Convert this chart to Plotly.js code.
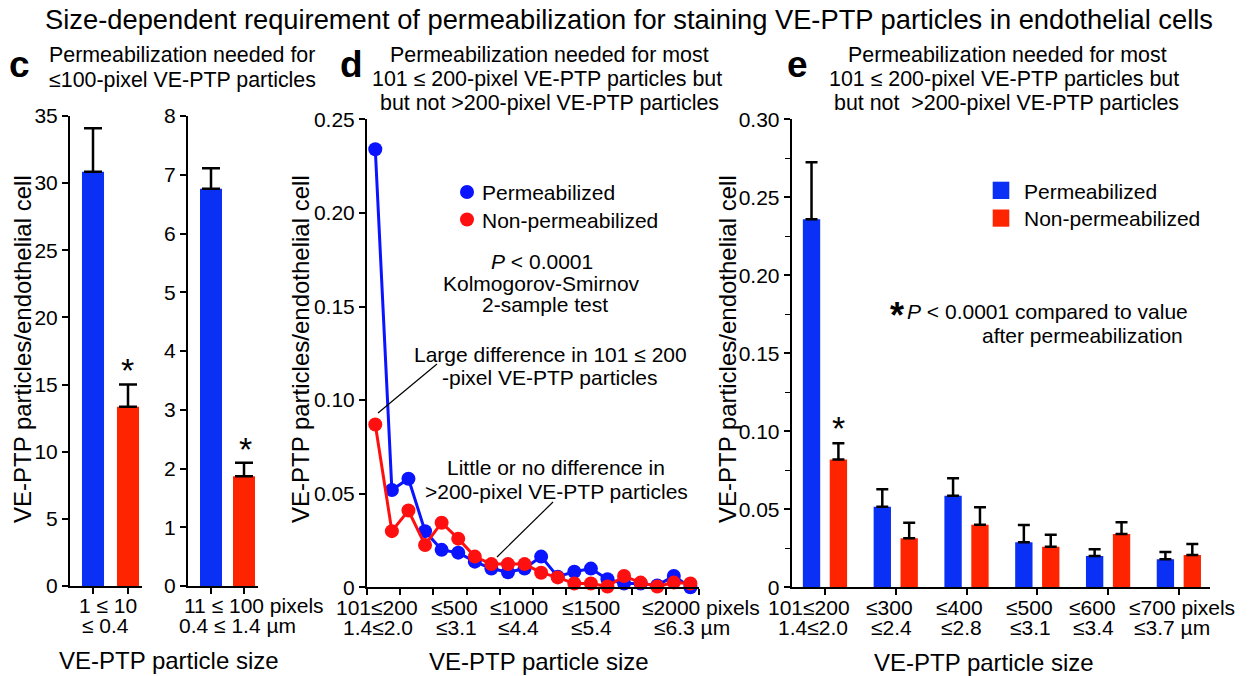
<!DOCTYPE html>
<html>
<head>
<meta charset="utf-8">
<script src="https://cdn.plot.ly/plotly-3.0.1.min.js"></script>
<style>html,body{margin:0;padding:0;background:#fff}#chart{width:1259px;height:676px}</style>
</head>
<body>
<div id="chart"></div>
<script>
// ---------- data ----------
const groupNames = ['Permeabilized', 'Non-permeabilized'];

// panel c (left): 1 ≤ 10 pixels
const c1Values = [30.85, 13.35];
const c1Errors = [3.23, 1.65];
// panel c (right): 11 ≤ 100 pixels
const c2Values = [6.76, 1.87];
const c2Errors = [0.35, 0.23];

// panel d: 20 size bins (101-200 ... 2000 pixels)
const dBins = [0,1,2,3,4,5,6,7,8,9,10,11,12,13,14,15,16,17,18,19];
const dPermeabilized = [0.234,0.052,0.058,0.030,0.020,0.0185,0.0137,0.010,0.008,0.010,0.0164,0.0057,0.0083,0.010,0.0043,0.002,0.002,0.001,0.006,0.0];
const dNonPermeabilized = [0.087,0.030,0.041,0.0226,0.0345,0.026,0.0164,0.0124,0.0124,0.0124,0.0078,0.0053,0.002,0.002,0.0004,0.006,0.0025,0.0004,0.0025,0.002];

// panel e
const eCategories = [0,1,2,3,4,5];
const ePermeabilized = [0.236,0.0517,0.0587,0.0288,0.0201,0.018];
const ePermErrors = [0.0364,0.0111,0.0112,0.0112,0.0043,0.0046];
const eNonPermeabilized = [0.082,0.0314,0.0401,0.026,0.0342,0.0207];
const eNonErrors = [0.0103,0.0100,0.0112,0.0077,0.0075,0.0071];

// tick labels
const c1TickLabels = ['1 ≤ 10', '≤ 0.4'];
const c2TickLabels = ['11 ≤ 100 pixels', '0.4 ≤ 1.4 µm'];
const dTickPixels = ['101≤200', '≤500', '≤1000', '≤1500', '≤2000 pixels'];
const dTickMicrons = ['1.4≤2.0', '≤3.1', '≤4.4', '≤5.4', '≤6.3 µm'];
const eTickPixels = ['101≤200', '≤300', '≤400', '≤500', '≤600', '≤700 pixels'];
const eTickMicrons = ['1.4≤2.0', '≤2.4', '≤2.8', '≤3.1', '≤3.4', '≤3.7 µm'];
const dYTicks = [0, 0.05, 0.10, 0.15, 0.20, 0.25];
const dYTickText = ['0', '0.05', '0.10', '0.15', '0.20', '0.25'];
const eYTicks = [0, 0.05, 0.10, 0.15, 0.20, 0.25, 0.30];
const eYTickText = ['0', '0.05', '0.10', '0.15', '0.20', '0.25', '0.30'];

// ---------- layout helpers ----------
const W = 1259, H = 676;
const F = 'Liberation Sans, Arial, Helvetica, sans-serif';
const BLUE = '#0a30f5', RED = '#ff2400';
const LBLUE = '#0a14ff', LRED = '#ff1010';
const X = p => p / W;
const Y = p => 1 - p / H;

function txt(text, x, y, o) {
  o = o || {};
  return {
    text: text, x: X(x), y: Y(y), xref: 'paper', yref: 'paper', showarrow: false,
    xanchor: o.xa || 'center', yanchor: 'middle', textangle: o.angle || 0,
    font: {family: F, size: o.size || 21, color: '#000', weight: o.weight || 'normal'}
  };
}

const errStyle = {color: '#000', thickness: 2.5};

const traces = [
  {type: 'bar', x: [0, 1], y: c1Values, xaxis: 'x', yaxis: 'y', width: 0.63,
   marker: {color: [BLUE, RED]}, name: 'c1',
   error_y: Object.assign({type: 'data', symmetric: false, array: c1Errors, arrayminus: [0, 0], width: 9}, errStyle)},
  {type: 'bar', x: [0, 1], y: c2Values, xaxis: 'x2', yaxis: 'y2', width: 0.667,
   marker: {color: [BLUE, RED]}, name: 'c2',
   error_y: Object.assign({type: 'data', symmetric: false, array: c2Errors, arrayminus: [0, 0], width: 9}, errStyle)},
  {type: 'scatter', mode: 'lines+markers', x: dBins, y: dPermeabilized, xaxis: 'x3', yaxis: 'y3',
   name: groupNames[0], line: {color: LBLUE, width: 3}, marker: {color: LBLUE, size: 14}, cliponaxis: false},
  {type: 'scatter', mode: 'lines+markers', x: dBins, y: dNonPermeabilized, xaxis: 'x3', yaxis: 'y3',
   name: groupNames[1], line: {color: LRED, width: 3}, marker: {color: LRED, size: 14}, cliponaxis: false},
  {type: 'bar', x: eCategories, y: ePermeabilized, xaxis: 'x4', yaxis: 'y4', width: 0.245, offset: -0.3125,
   name: groupNames[0], marker: {color: BLUE},
   error_y: Object.assign({type: 'data', symmetric: false, array: ePermErrors, arrayminus: ePermErrors.map(() => 0), width: 6}, errStyle)},
  {type: 'bar', x: eCategories, y: eNonPermeabilized, xaxis: 'x4', yaxis: 'y4', width: 0.245, offset: 0.0675,
   name: groupNames[1], marker: {color: RED},
   error_y: Object.assign({type: 'data', symmetric: false, array: eNonErrors, arrayminus: eNonErrors.map(() => 0), width: 6}, errStyle)}
];

const axBase = {
  showline: true, linecolor: '#000', linewidth: 2, ticks: 'outside', ticklen: 6, tickwidth: 2,
  tickcolor: '#000', showgrid: false, zeroline: false, fixedrange: true,
  tickfont: {family: F, size: 21, color: '#000'}
};

const annotations = [
  // panel letters
  txt('c', 19, 64.5, {size: 37, weight: 'bold'}),
  txt('d', 351, 64.5, {size: 37, weight: 'bold'}),
  txt('e', 797, 64.5, {size: 37, weight: 'bold'}),
  // subtitles
  txt('Permeabilization needed for', 182, 55, {size: 21.4}),
  txt('≤100-pixel VE-PTP particles', 182, 80, {size: 21.4}),
  txt('Permeabilization needed for most', 549, 55, {size: 21.4}),
  txt('101 ≤ 200-pixel VE-PTP particles but', 547, 79, {size: 21.4}),
  txt('but not >200-pixel VE-PTP particles', 549, 103, {size: 21.4}),
  txt('Permeabilization needed for most', 1007, 55, {size: 21.4}),
  txt('101 ≤ 200-pixel VE-PTP particles but', 1004, 79, {size: 21.4}),
  txt('but not\u00a0 >200-pixel VE-PTP particles', 1006, 103, {size: 21.4}),
  // y-axis titles
  txt('VE-PTP particles/endothelial cell', 22, 349, {size: 24, angle: -90}),
  txt('VE-PTP particles/endothelial cell', 300, 349, {size: 24, angle: -90}),
  txt('VE-PTP particles/endothelial cell', 727, 349, {size: 24, angle: -90}),
  // x-axis titles
  txt('VE-PTP particle size', 169, 660, {size: 24}),
  txt('VE-PTP particle size', 539, 661, {size: 24}),
  txt('VE-PTP particle size', 984, 662, {size: 24}),
  // c tick labels
  txt(c1TickLabels[0], 108, 605),
  txt(c1TickLabels[1], 105, 625),
  txt(c2TickLabels[0], 181.7, 605, {xa: 'left'}),
  txt(c2TickLabels[1], 176.7, 625, {xa: 'left'}),
  // d notes
  txt('<i>P</i> &lt; 0.0001', 541.7, 261),
  txt('Kolmogorov-Smirnov', 541.7, 283),
  txt('2-sample test', 545, 304),
  txt('Large difference in 101 ≤ 200', 550, 354),
  txt('-pixel VE-PTP particles', 550, 377),
  txt('Little or no difference in', 556, 467),
  txt('>200-pixel VE-PTP particles', 556, 491.5),
  // d legend
  txt(groupNames[0], 480, 193, {xa: 'left'}),
  txt(groupNames[1], 480, 220, {xa: 'left'}),
  // e legend
  txt(groupNames[0], 1021.7, 191, {xa: 'left'}),
  txt(groupNames[1], 1021.7, 218.7, {xa: 'left'}),
  // e note
  txt('*', 897, 316, {size: 36, weight: 'bold'}),
  txt('<i>P</i> &lt; 0.0001 compared to value', 1190, 311.7, {xa: 'right'}),
  txt('after permeabilization', 1185, 335, {xa: 'right'}),
  // significance asterisks
  txt('*', 128, 370, {size: 34}),
  txt('*', 245, 449, {size: 34}),
  txt('*', 838, 427.5, {size: 34})
];

// d tick labels
const dPix1 = [377, 454, 519, 591];
dTickPixels.forEach((t, i) => {
  if (i < 4) annotations.push(txt(t, dPix1[i], 607));
  else annotations.push(txt(t, 640, 607, {xa: 'left'}));
});
const dPix2 = [378, 456, 518, 591.5];
dTickMicrons.forEach((t, i) => {
  if (i < 4) annotations.push(txt(t, dPix2[i], 627));
  else annotations.push(txt(t, 652, 627, {xa: 'left'}));
});
// e tick labels
const ePix1 = [809, 889.7, 959, 1029, 1092];
eTickPixels.forEach((t, i) => {
  if (i < 5) annotations.push(txt(t, ePix1[i], 607));
  else annotations.push(txt(t, 1127, 607, {xa: 'left'}));
});
const ePix2 = [813, 891, 961, 1030, 1093.5];
eTickMicrons.forEach((t, i) => {
  if (i < 5) annotations.push(txt(t, ePix2[i], 627));
  else annotations.push(txt(t, 1131.7, 627, {xa: 'left'}));
});

const shapes = [
  // d leader lines
  {type: 'line', xref: 'paper', yref: 'paper', x0: X(437), y0: Y(364), x1: X(378), y1: Y(413), line: {color: '#000', width: 1.2}},
  {type: 'line', xref: 'paper', yref: 'paper', x0: X(553), y0: Y(502), x1: X(497), y1: Y(557), line: {color: '#000', width: 1.2}},
  // d legend markers
  {type: 'circle', xref: 'paper', yref: 'paper', x0: X(460), x1: X(474), y0: Y(185), y1: Y(199), fillcolor: LBLUE, line: {width: 0}},
  {type: 'circle', xref: 'paper', yref: 'paper', x0: X(460), x1: X(474), y0: Y(212.5), y1: Y(226.5), fillcolor: LRED, line: {width: 0}},
  // e legend markers
  {type: 'rect', xref: 'paper', yref: 'paper', x0: X(992.7), x1: X(1009.3), y0: Y(181.7), y1: Y(199), fillcolor: BLUE, line: {width: 0}},
  {type: 'rect', xref: 'paper', yref: 'paper', x0: X(992.7), x1: X(1009.3), y0: Y(209.5), y1: Y(226.7), fillcolor: RED, line: {width: 0}}
];

const layout = {
  width: W, height: H, autosize: false,
  margin: {l: 0, r: 0, t: 0, b: 0, pad: 0},
  paper_bgcolor: '#fff', plot_bgcolor: 'rgba(0,0,0,0)',
  showlegend: false, barmode: 'overlay',
  font: {family: F, color: '#000'},
  title: {text: 'Size-dependent requirement of permeabilization for staining VE-PTP particles in endothelial cells',
          x: X(629), y: Y(19), xref: 'paper', yref: 'paper', xanchor: 'center', yanchor: 'middle',
          font: {family: F, size: 27.3, color: '#000'}},
  xaxis: Object.assign({}, axBase, {domain: [X(70), X(142)], range: [-0.657, 1.4], tickvals: [0, 1], showticklabels: false, anchor: 'y'}),
  yaxis: Object.assign({}, axBase, {domain: [Y(586), Y(116)], range: [0, 35], tick0: 0, dtick: 5, anchor: 'x'}),
  xaxis2: Object.assign({}, axBase, {domain: [X(188), X(258)], range: [-0.697, 1.424], tickvals: [0, 1], showticklabels: false, anchor: 'y2'}),
  yaxis2: Object.assign({}, axBase, {domain: [Y(586), Y(116)], range: [0, 8], tick0: 0, dtick: 1, anchor: 'x2'}),
  xaxis3: Object.assign({}, axBase, {domain: [X(367), X(698.7)], range: [-0.5, 19.5], tick0: -0.5, dtick: 2, showticklabels: false, anchor: 'y3'}),
  yaxis3: Object.assign({}, axBase, {domain: [Y(587.3), Y(119.3)], range: [0, 0.25], tickmode: 'array', tickvals: dYTicks, ticktext: dYTickText, anchor: 'x3'}),
  xaxis4: Object.assign({}, axBase, {domain: [X(791.7), X(1210)], range: [-0.47, 5.44], tickvals: eCategories, showticklabels: false, anchor: 'y4'}),
  yaxis4: Object.assign({}, axBase, {domain: [Y(587.3), Y(119.3)], range: [0, 0.30], tickmode: 'array', tickvals: eYTicks, ticktext: eYTickText, anchor: 'x4',
          minor: {tick0: 0, dtick: 0.025, ticks: 'outside', ticklen: 5, tickwidth: 1.5, tickcolor: '#000'}}),
  annotations: annotations,
  shapes: shapes
};

Plotly.newPlot('chart', traces, layout, {staticPlot: true, displayModeBar: false});
</script>
</body>
</html>
